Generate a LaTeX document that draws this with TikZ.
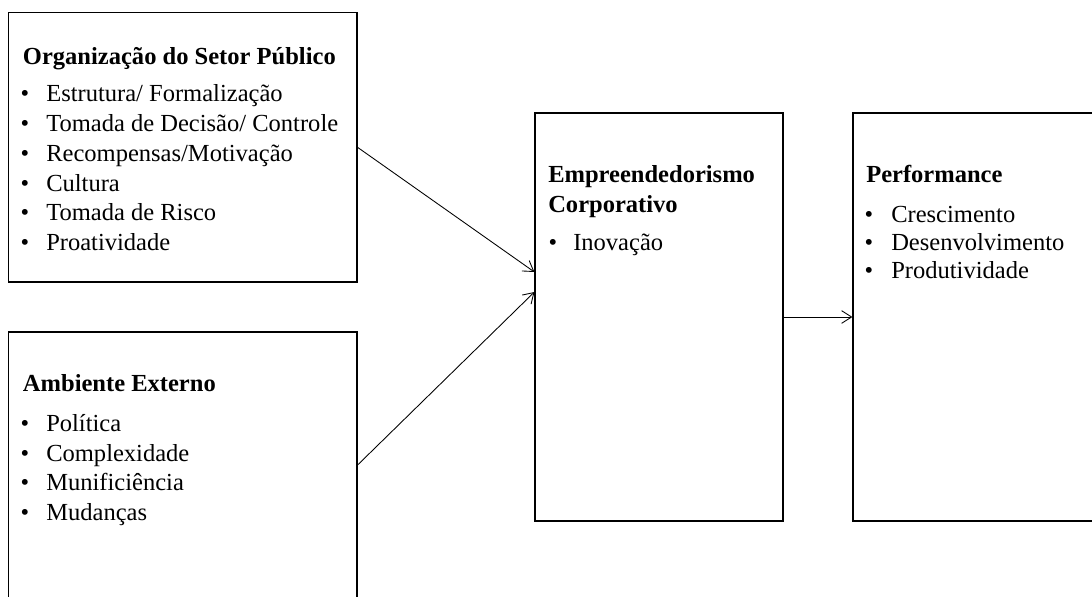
\documentclass[tikz,border=0pt]{standalone}
\usepackage{fontspec}
\setmainfont{Liberation Serif}
\usetikzlibrary{arrows.meta,fit}
\begin{document}
\begin{tikzpicture}[x=0.75pt,y=-0.75pt,
  box/.style={draw=black,line width=0.9pt,inner sep=0pt,rectangle},
  ttl/.style={anchor=base west,inner sep=0pt,font=\fontsize{18.4}{22}\selectfont\bfseries},
  itm/.style={anchor=base west,inner sep=0pt,font=\fontsize{18.4}{22}\selectfont},
  bul/.style={anchor=base,inner sep=0pt,font=\fontsize{18.4}{22}\selectfont},
  conn/.style={line width=0.65pt,-{Straight Barb[length=7.5pt,width=9.5pt,line width=0.65pt]}}]
\useasboundingbox (0,0) rectangle (1092,596);
% boxes
\node[box,fit={(8.5,12.7) (357,282)}] (b1) {};
\node[box,fit={(8.5,332) (357,598)}] (b2) {};
\node[box,fit={(535,113) (783,521)}] (b3) {};
\node[box,fit={(853,113) (1110,521)}] (b4) {};
% box 1 text
\node[ttl] (t1) at (22.7,64) {Organização do Setor Público};
\node[bul] (p11) at (25,101.5) {•}; \node[itm] (i11) at (46,101.5) {Estrutura/ Formalização};
\node[bul] (p12) at (25,131) {•}; \node[itm] (i12) at (46,131) {Tomada de Decisão/ Controle};
\node[bul] (p13) at (25,161) {•}; \node[itm] (i13) at (46,161) {Recompensas/Motivação};
\node[bul] (p14) at (25,191) {•}; \node[itm] (i14) at (46,191) {Cultura};
\node[bul] (p15) at (25,220.5) {•}; \node[itm] (i15) at (46,220.5) {Tomada de Risco};
\node[bul] (p16) at (25,250) {•}; \node[itm] (i16) at (46,250) {Proatividade};
% box 2 text
\node[ttl] (t2) at (22.7,391.7) {Ambiente Externo};
\node[bul] (p21) at (25,431.7) {•}; \node[itm] (i21) at (46,431.7) {Política};
\node[bul] (p22) at (25,461.5) {•}; \node[itm] (i22) at (46,461.5) {Complexidade};
\node[bul] (p23) at (25,490.7) {•}; \node[itm] (i23) at (46,490.7) {Munificiência};
\node[bul] (p24) at (25,520) {•}; \node[itm] (i24) at (46,520) {Mudanças};
% box 3 text
\node[ttl] (t3a) at (548,182) {Empreendedorismo};
\node[ttl] (t3b) at (548,212) {Corporativo};
\node[bul] (p31) at (553,250) {•}; \node[itm] (i31) at (573,250) {Inovação};
% box 4 text
\node[ttl] (t4) at (866,182) {Performance};
\node[bul] (p41) at (869,222) {•}; \node[itm] (i41) at (891,222) {Crescimento};
\node[bul] (p42) at (869,250) {•}; \node[itm] (i42) at (891,250) {Desenvolvimento};
\node[bul] (p43) at (869,278.5) {•}; \node[itm] (i43) at (891,278.5) {Produtividade};
% connectors
\draw[conn] (b1.east) -- ([yshift=33.75pt]b3.west);
\draw[conn] (b2.east) -- ([yshift=18.75pt]b3.west);
\draw[conn] (b3.east) -- (b4.west);
\end{tikzpicture}
\end{document}
